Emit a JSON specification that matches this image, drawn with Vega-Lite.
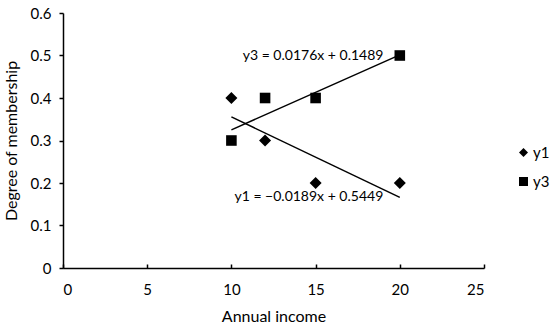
{
  "$schema": "https://vega.github.io/schema/vega-lite/v6.json",
  "autosize": "none",
  "width": 421,
  "height": 255,
  "padding": {"left": 63, "top": 13, "right": 66, "bottom": 59},
  "background": "white",
  "config": {
    "view": {"stroke": null},
    "font": "Lato",
    "axis": {"grid": false, "domainColor": "black", "tickColor": "black", "domainWidth": 1.5, "tickWidth": 1.5, "labelColor": "black", "titleColor": "black", "labelFont": "Lato", "titleFont": "Lato", "labelFontSize": 15, "titleFontSize": 16, "titleFontWeight": "normal"}
  },
  "datasets": {
    "pts": [
      {"x": 10, "y": 0.4, "series": "y1"},
      {"x": 12, "y": 0.3, "series": "y1"},
      {"x": 15, "y": 0.2, "series": "y1"},
      {"x": 20, "y": 0.2, "series": "y1"},
      {"x": 10, "y": 0.3, "series": "y3"},
      {"x": 12, "y": 0.4, "series": "y3"},
      {"x": 15, "y": 0.4, "series": "y3"},
      {"x": 20, "y": 0.5, "series": "y3"}
    ],
    "labels": [
      {"x": 14.85, "y": 0.499, "text": "y3 = 0.0176x + 0.1489"},
      {"x": 14.6, "y": 0.167, "text": "y1 = −0.0189x + 0.5449"}
    ]
  },
  "encoding": {
    "x": {"field": "x", "type": "quantitative", "scale": {"domain": [0, 25]},
      "axis": {"title": "Annual income", "values": [0, 5, 10, 15, 20, 25], "tickSize": -4, "labelPadding": 18, "titlePadding": 11}},
    "y": {"field": "y", "type": "quantitative", "scale": {"domain": [0, 0.6]},
      "axis": {"title": "Degree of membership", "values": [0, 0.1, 0.2, 0.3, 0.4, 0.5, 0.6], "tickSize": 4, "labelPadding": 8, "titlePadding": 11, "labelExpr": "datum.value == 0 ? '0' : format(datum.value, '.1f')"}}
  },
  "layer": [
    {
      "data": {"name": "pts"},
      "transform": [{"regression": "y", "on": "x", "groupby": ["series"]}],
      "mark": {"type": "line", "color": "black", "strokeWidth": 1.5},
      "encoding": {"detail": {"field": "series"}}
    },
    {
      "data": {"name": "pts"},
      "transform": [{"filter": "datum.series == 'y1'"}],
      "mark": {"type": "point", "filled": true, "opacity": 1, "color": "black", "size": 144},
      "encoding": {
        "shape": {"field": "series", "type": "nominal",
          "scale": {"domain": ["y1", "y3"], "range": ["diamond", "square"]},
          "legend": {"title": null, "orient": "none", "legendX": 453, "legendY": 132, "rowPadding": 13, "labelFontSize": 15, "labelFont": "Lato", "labelColor": "black", "symbolFillColor": "black", "symbolStrokeColor": "black", "symbolSize": 81, "labelOffset": 2}}
      }
    },
    {
      "data": {"name": "pts"},
      "transform": [{"filter": "datum.series == 'y3'"}],
      "mark": {"type": "point", "filled": true, "opacity": 1, "color": "black", "size": 112},
      "encoding": {
        "shape": {"field": "series", "type": "nominal"}
      }
    },
    {
      "data": {"name": "labels"},
      "mark": {"type": "text", "fontSize": 14, "font": "Lato", "color": "black", "align": "center", "baseline": "middle"},
      "encoding": {
        "text": {"field": "text"}
      }
    }
  ]
}
